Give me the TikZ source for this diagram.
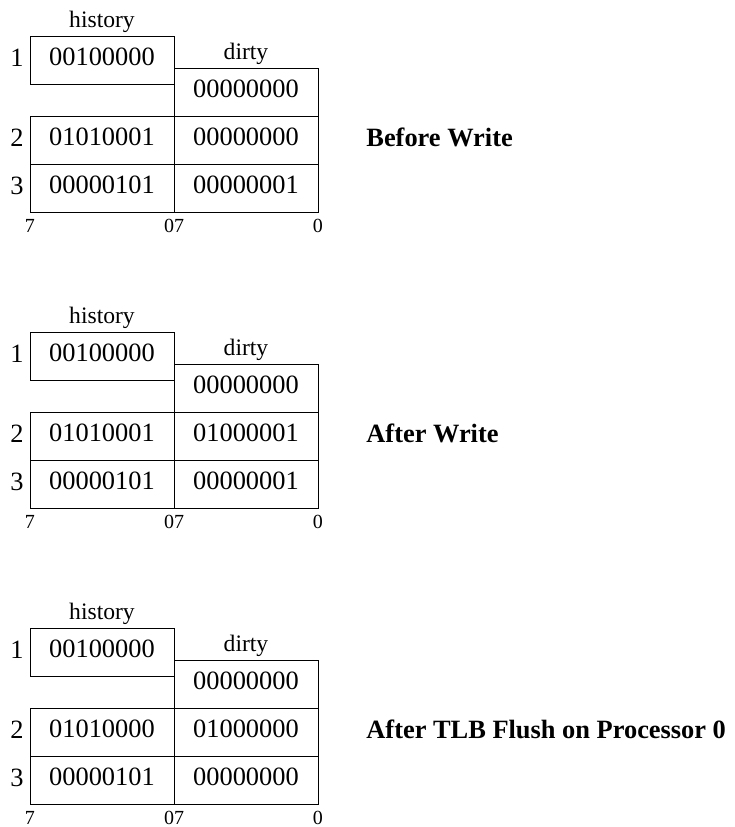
\documentclass[tikz,border=0pt]{standalone}
\usepackage{fontspec}
\setmainfont{Liberation Serif}
\usetikzlibrary{positioning}
\tikzset{
	cell/.style={draw, line width=0.5pt, minimum width=72pt, minimum height=24pt, inner sep=0pt,
		font=\fontsize{13.2}{16}\selectfont, text height=0.7em, text depth=0.2em},
	rowno/.style={font=\fontsize{13.2}{16}\selectfont, inner sep=0pt, anchor=base},
	fieldname/.style={font=\fontsize{11.8}{14}\selectfont, inner sep=0pt},
	bitno/.style={font=\fontsize{10}{12}\selectfont, inner sep=0pt, anchor=base},
	caption/.style={font=\fontsize{13.2}{16}\selectfont\bfseries, inner sep=0pt, anchor=base west}
}

\begin{document}
\begin{tikzpicture}[x=0.5pt, y=-0.5pt]
			\useasboundingbox (0,0) rectangle (735,827);
			%%%%% START %%%%%
			\foreach \p/\what/\hb/\db/\hc/\dc in {
				0/Before Write/01010001/00000000/00000101/00000001,
				1/After Write/01010001/01000001/00000101/00000001,
				2/After TLB Flush on Processor 0/01010000/01000000/00000101/00000000}{
			\begin{scope}[shift={(0,296*\p)}]
				\node[fieldname] (hn-\p) at (102,22) {history};
				\node[fieldname] (dn-\p) at (246,54) {dirty};
				
				\node[cell] (h1-\p) at (102,60) {00100000};
				\node[cell] (d1-\p) at (246,92) {00000000};
				\node[cell] (h2-\p) at (102,140) {\hb};
				\node[cell] (d2-\p) at (246,140) {\db};
				\node[cell] (h3-\p) at (102,188) {\hc};
				\node[cell] (d3-\p) at (246,188) {\dc};
				
				\node[rowno] (r1-\p) at (17,66.5) {1};
				\node[rowno] (r2-\p) at (17,146.5) {2};
				\node[rowno] (r3-\p) at (17,194.5) {3};
				
				\node[bitno] (b7-\p) at (30,232.5) {7};
				\node[bitno] (b07-\p) at (174,232.5) {07};
				\node[bitno] (b0-\p) at (318,232.5) {0};
				
				\node[caption] (t-\p) at (366,146.5) {\what};
			\end{scope}
			}
			%%%%% END %%%%%
\end{tikzpicture}
\end{document}
